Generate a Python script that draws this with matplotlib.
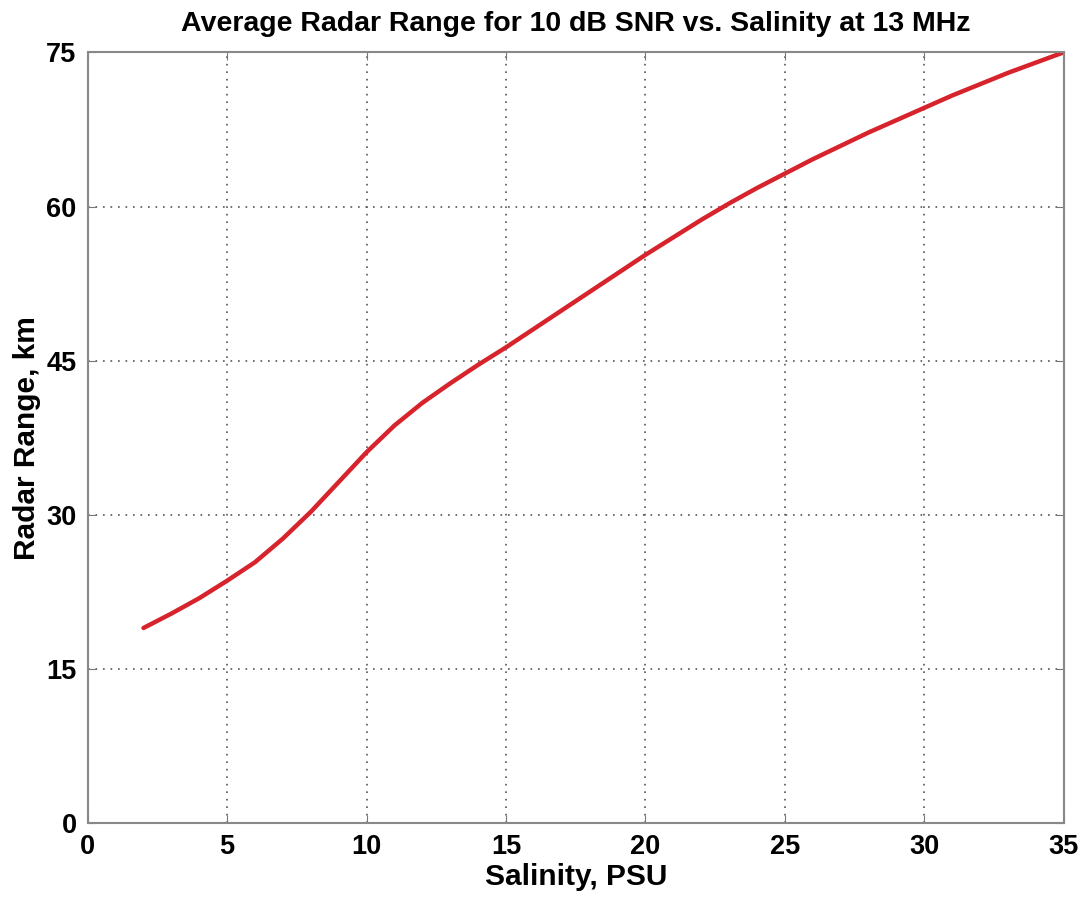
import matplotlib
matplotlib.use("Agg")
import matplotlib.pyplot as plt
import numpy as np

salinity = [2, 3, 4, 5, 6, 7, 8, 9, 10, 11, 12, 13, 14, 15, 16, 17, 18,
            19, 20, 21, 22, 23, 24, 25, 26, 27, 28, 29, 30, 31, 32, 33, 34, 35]
radar_range = [19.0, 20.4, 21.9, 23.6, 25.4, 27.7, 30.3, 33.2, 36.1, 38.7,
               40.9, 42.8, 44.6, 46.3, 48.1, 49.9, 51.7, 53.5, 55.3, 57.0,
               58.7, 60.3, 61.8, 63.2, 64.6, 65.9, 67.2, 68.4, 69.6, 70.8,
               71.9, 73.0, 74.0, 75.0]
xticks = [0, 5, 10, 15, 20, 25, 30, 35]
yticks = [0, 15, 30, 45, 60, 75]

plt.rcParams['font.family'] = ['Liberation Sans', 'DejaVu Sans']
plt.rcParams['font.weight'] = 'bold'

fig = plt.figure(figsize=(10.91, 8.99), dpi=100)
ax = fig.add_axes([0.0804, 0.0842, 0.8946, 0.8576])

ax.plot(salinity, radar_range, color='#d7232c', lw=3.2,
        solid_capstyle='round', solid_joinstyle='round')

ax.set_xlim(0, 35)
ax.set_ylim(0, 75)
ax.set_xticks(xticks)
ax.set_yticks(yticks)
ax.grid(True, linestyle=(0, (1, 3.5)), color='#555555', lw=1.2)
ax.tick_params(direction='in', length=6, color='#777777', labelsize=19.5, pad=8,
               top=True, right=True)
for s in ax.spines.values():
    s.set_color('#888888')
    s.set_linewidth(1.5)

ax.set_xlabel('Salinity, PSU', fontsize=21.5, fontweight='bold', labelpad=2)
ax.set_ylabel('Radar Range, km', fontsize=21.5, fontweight='bold', labelpad=4)
ax.set_title('Average Radar Range for 10 dB SNR vs. Salinity at 13 MHz',
             fontsize=20.5, fontweight='bold', pad=15)

fig.savefig('out.png', dpi=100)
